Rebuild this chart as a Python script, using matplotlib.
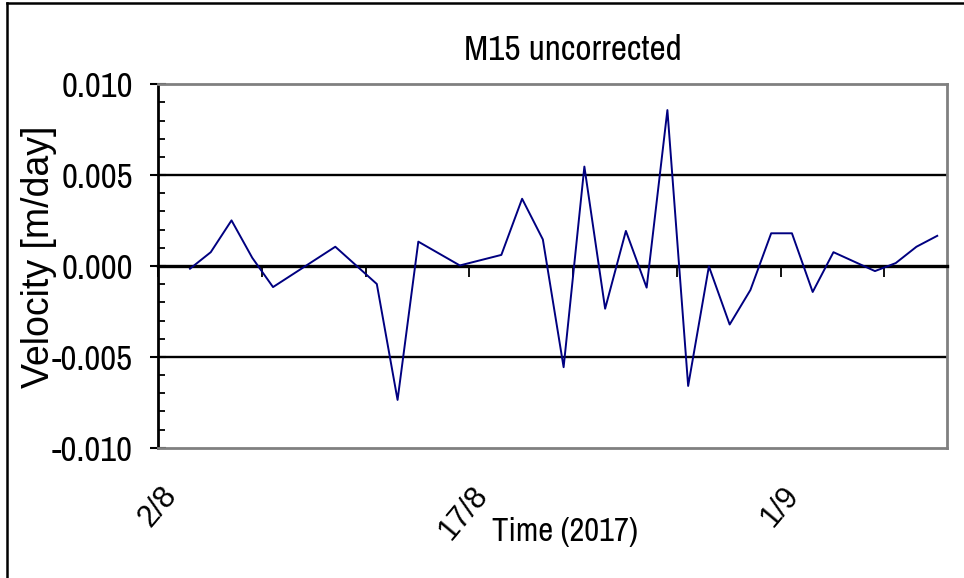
import matplotlib
matplotlib.use('Agg')
import matplotlib.pyplot as plt
import matplotlib.dates as mdates
import matplotlib.ticker as mticker
from matplotlib.lines import Line2D
from matplotlib.transforms import ScaledTranslation
import pandas as pd

plt.rcParams['axes.unicode_minus'] = False

# --- data (velocity of point M15, uncorrected) ---
dates = ['2017-08-03', '2017-08-04', '2017-08-05', '2017-08-06', '2017-08-07',
         '2017-08-10', '2017-08-12', '2017-08-13', '2017-08-14', '2017-08-16',
         '2017-08-18', '2017-08-19', '2017-08-20', '2017-08-21', '2017-08-22',
         '2017-08-23', '2017-08-24', '2017-08-25', '2017-08-26', '2017-08-27',
         '2017-08-28', '2017-08-29', '2017-08-30', '2017-08-31', '2017-09-01',
         '2017-09-02', '2017-09-03', '2017-09-05', '2017-09-06', '2017-09-07',
         '2017-09-08']
velocity = [-0.00015, 0.00076, 0.00251, 0.00045, -0.00116,
            0.00106, -0.00099, -0.00737, 0.00134, 0.00003,
            0.00061, 0.00370, 0.00146, -0.00557, 0.00547,
            -0.00235, 0.00193, -0.00119, 0.00858, -0.00660,
            -0.00002, -0.00322, -0.00132, 0.00180, 0.00180,
            -0.00143, 0.00076, -0.00028, 0.00016, 0.00106,
            0.00166]
obs_time = '13:00'
x_start, x_end = '2017-08-02', '2017-09-09'
label_dates = ['2017-08-02', '2017-08-17', '2017-09-01']
y_major = [-0.010, -0.005, 0.0, 0.005, 0.010]

t = pd.to_datetime([d + ' ' + obs_time for d in dates])
x = mdates.date2num(t.to_pydatetime())
x0 = mdates.date2num(pd.Timestamp(x_start).to_pydatetime())
x1 = mdates.date2num(pd.Timestamp(x_end).to_pydatetime())
lab_x = [mdates.date2num(pd.Timestamp(d).to_pydatetime()) for d in label_dates]
lab_txt = [f"{pd.Timestamp(d).day}/{pd.Timestamp(d).month}" for d in label_dates]

narrow = ['Archivo Narrow', 'Liberation Sans', 'DejaVu Sans']
regular = ['Liberation Sans', 'DejaVu Sans']

fig = plt.figure(figsize=(9.64, 5.78), dpi=100)
ax = fig.add_axes([0.1639, 0.2254, 0.8182, 0.6288])

ax.plot(x, velocity, color='#000080', linewidth=1.4, zorder=5)

ax.set_xlim(x0, x1)
ax.set_ylim(-0.010, 0.010)

# gridlines at +-0.005, grey frame top/right/bottom
for yv in (-0.005, 0.005):
    ax.axhline(yv, color='black', linewidth=1.7, zorder=2)
ax.axhline(-0.010, color='#808080', linewidth=2.0, clip_on=False, zorder=3)
for s in ('top', 'right'):
    ax.spines[s].set_color('#808080')
    ax.spines[s].set_linewidth(2.0)
ax.spines['left'].set_color('black')
ax.spines['left'].set_linewidth(2.0)

# x axis crosses at zero, ticks every 5 days, no labels there
ax.spines['bottom'].set_position(('data', 0))
ax.spines['bottom'].set_color('black')
ax.spines['bottom'].set_linewidth(2.4)
ax.xaxis.set_major_locator(mticker.MultipleLocator(5))
ax.xaxis.set_major_formatter(mticker.NullFormatter())
ax.tick_params(axis='x', direction='out', length=8, width=1.3, color='black')

# y axis
ax.set_yticks(y_major)
ax.yaxis.set_minor_locator(mticker.MultipleLocator(0.001))
ax.yaxis.set_major_formatter(mticker.FormatStrFormatter('%.3f'))
ax.tick_params(axis='y', which='major', direction='inout', length=12, width=1.5, pad=12)
ax.tick_params(axis='y', which='minor', direction='in', length=5, width=1.3)
for lab in ax.get_yticklabels():
    lab.set_family(narrow)
    lab.set_fontsize(25)

# date labels sit below the plot area
sec = ax.secondary_xaxis(0.0)
sec.spines['bottom'].set_visible(False)
sec.set_xticks(lab_x)
sec.set_xticklabels(lab_txt)
sec.tick_params(axis='x', length=0, pad=24)
off = ScaledTranslation(0.02, 0, fig.dpi_scale_trans)
for lab in sec.get_xticklabels():
    lab.set_family(regular)
    lab.set_fontsize(22)
    lab.set_rotation(50)
    lab.set_ha('right')
    lab.set_va('top')
    lab.set_rotation_mode('anchor')
    lab.set_transform(lab.get_transform() + off)

ax.set_xlabel('Time (2017)', family=narrow, fontsize=23.5)
ax.xaxis.set_label_coords(0.516, -0.19)
ax.xaxis.label.set_va('top')

ax.set_ylabel('Velocity [m/day]', family=regular, fontsize=27)
ax.yaxis.set_label_coords(-0.128, 0.525)

fig.text(0.594, 1 - 60 / 578, 'M15 uncorrected', family=narrow, fontsize=25.5,
         ha='center', va='baseline')

# chart border (top and left edges visible in the reference)
fig.add_artist(Line2D([7 / 964, 1.0], [1 - 3 / 578, 1 - 3 / 578],
                      color='black', linewidth=1.8, transform=fig.transFigure))
fig.add_artist(Line2D([7 / 964, 7 / 964], [0.0, 1 - 3 / 578],
                      color='black', linewidth=1.8, transform=fig.transFigure))

fig.savefig('out.png', dpi=100)
